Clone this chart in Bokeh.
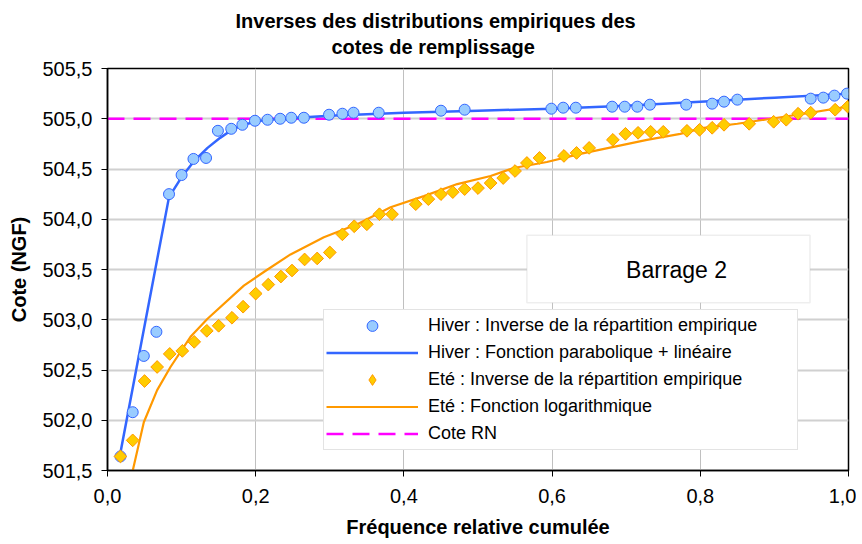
from bokeh.plotting import figure
from bokeh.models import Range1d, FixedTicker, Legend, LegendItem, Title, Label, BoxAnnotation
from bokeh.embed import file_html
from bokeh.resources import INLINE

# ---- data ----
hiver_freq = [0.0175, 0.034, 0.049, 0.066, 0.083, 0.100, 0.116, 0.133, 0.149, 0.167, 0.182, 0.199,
              0.216, 0.233, 0.248, 0.265, 0.299, 0.317, 0.332, 0.366, 0.450, 0.482, 0.599, 0.615,
              0.632, 0.681, 0.698, 0.715, 0.732, 0.781, 0.816, 0.832, 0.850, 0.949, 0.966, 0.981, 0.998]
hiver_cote = [501.64, 502.08, 502.64, 502.88, 504.25, 504.44, 504.60, 504.61, 504.88, 504.90, 504.94, 504.98,
              504.99, 505.00, 505.01, 505.01, 505.04, 505.05, 505.06, 505.06, 505.08, 505.09, 505.10, 505.11,
              505.11, 505.12, 505.12, 505.12, 505.14, 505.14, 505.15, 505.17, 505.19, 505.20, 505.21, 505.23, 505.25]

hiver_fit_freq = [0.0175, 0.083, 0.100, 0.117, 0.135, 0.152, 0.170, 0.189, 0.206, 0.233, 0.3, 0.4,
                  0.5, 0.6, 0.7, 0.8, 0.9, 1.0]
hiver_fit_cote = [501.68, 504.22, 504.42, 504.58, 504.71, 504.81, 504.90, 504.95, 504.98, 505.00, 505.03, 505.06,
                  505.08, 505.10, 505.13, 505.17, 505.21, 505.25]

ete_freq = [0.0175, 0.034, 0.050, 0.067, 0.084, 0.101, 0.117, 0.134, 0.150, 0.168, 0.183, 0.200,
            0.217, 0.234, 0.249, 0.266, 0.283, 0.300, 0.317, 0.333, 0.350, 0.367, 0.384, 0.416,
            0.433, 0.450, 0.466, 0.482, 0.500, 0.517, 0.534, 0.550, 0.566, 0.583, 0.616, 0.633,
            0.650, 0.682, 0.699, 0.716, 0.733, 0.750, 0.782, 0.799, 0.816, 0.832, 0.866, 0.899,
            0.916, 0.932, 0.949, 0.982, 0.999]
ete_cote = [501.64, 501.80, 502.39, 502.53, 502.66, 502.69, 502.78, 502.89, 502.94, 503.02, 503.13, 503.26,
            503.35, 503.43, 503.49, 503.60, 503.61, 503.67, 503.85, 503.93, 503.95, 504.05, 504.05, 504.15,
            504.20, 504.25, 504.27, 504.30, 504.31, 504.36, 504.41, 504.48, 504.56, 504.61, 504.63, 504.66,
            504.71, 504.79, 504.85, 504.86, 504.87, 504.87, 504.88, 504.89, 504.91, 504.94, 504.95, 504.97,
            504.99, 505.05, 505.06, 505.09, 505.12]

ete_fit_freq = [0.031, 0.049, 0.067, 0.085, 0.112, 0.135, 0.184, 0.216, 0.247, 0.292, 0.337, 0.382,
                0.427, 0.472, 0.517, 0.548, 0.593, 0.638, 0.683, 0.728, 0.773, 0.805, 0.850, 0.895,
                0.940, 0.999]
ete_fit_cote = [501.40, 501.98, 502.30, 502.53, 502.83, 503.01, 503.34, 503.50, 503.65, 503.82, 503.95, 504.12,
                504.23, 504.35, 504.43, 504.51, 504.57, 504.65, 504.72, 504.79, 504.85, 504.91, 504.95, 505.00,
                505.05, 505.12]

rn_freq = [0.0, 1.0]
rn_cote = [505.0, 505.0]

x_ticks = [0.0, 0.2, 0.4, 0.6, 0.8, 1.0]
x_tick_labels = ["0,0", "0,2", "0,4", "0,6", "0,8", "1,0"]
y_ticks = [501.5, 502.0, 502.5, 503.0, 503.5, 504.0, 504.5, 505.0, 505.5]
y_tick_labels = ["501,5", "502,0", "502,5", "503,0", "503,5", "504,0", "504,5", "505,0", "505,5"]

title_lines = ["Inverses des distributions empiriques des", "cotes de remplissage"]
x_label = "Fréquence relative cumulée"
y_label = "Cote (NGF)"
legend_labels = ["Hiver : Inverse de la répartition empirique",
                 "Hiver : Fonction parabolique + linéaire",
                 "Eté : Inverse de la répartition empirique",
                 "Eté : Fonction logarithmique",
                 "Cote RN"]
box_text = "Barrage 2"

FONT = "Liberation Sans"

p = figure(width=856, height=544, output_backend="svg", toolbar_location=None,
           x_range=Range1d(0, 1), y_range=Range1d(501.5, 505.5))
p.min_border_left = 107
p.min_border_right = 8
p.min_border_top = 68
p.min_border_bottom = 74
p.background_fill_color = "white"
p.border_fill_color = "white"
p.outline_line_color = "black"
p.outline_line_width = 1.5

# axes
p.xaxis.ticker = FixedTicker(ticks=x_ticks)
p.xaxis.major_label_overrides = {t: l for t, l in zip(x_ticks, x_tick_labels)}
p.yaxis.ticker = FixedTicker(ticks=y_ticks)
p.yaxis.major_label_overrides = {t: l for t, l in zip(y_ticks, y_tick_labels)}
for ax in (p.xaxis, p.yaxis):
    ax.axis_line_color = "black"
    ax.axis_line_width = 1.5
    ax.major_tick_line_color = "black"
    ax.major_tick_in = 0
    ax.major_tick_out = 6
    ax.minor_tick_line_color = None
    ax.major_label_text_font = FONT
    ax.major_label_text_font_size = "20px"
    ax.major_label_text_color = "black"
    ax.axis_label_text_font = FONT
    ax.axis_label_text_font_style = "bold"
    ax.axis_label_text_font_size = "20px"
    ax.axis_label_text_color = "black"
p.xaxis.axis_label = x_label
p.yaxis.axis_label = y_label
p.xaxis.major_label_standoff = 12
p.yaxis.major_label_standoff = 9
p.xaxis.axis_label_standoff = 10
p.yaxis.axis_label_standoff = 9

p.xgrid.ticker = FixedTicker(ticks=x_ticks)
p.ygrid.ticker = FixedTicker(ticks=y_ticks)
p.xgrid.grid_line_color = "#c0c0c0"
p.xgrid.grid_line_width = 1
p.ygrid.grid_line_color = "#d0d0d0"
p.ygrid.grid_line_width = 2

# titles (line 2 first: closest to plot)
t2 = Title(text=title_lines[1], align="left", offset=224, text_font=FONT,
           text_font_style="bold", text_font_size="20px", text_color="black", standoff=22)
t1 = Title(text=title_lines[0], align="left", offset=128, text_font=FONT,
           text_font_style="bold", text_font_size="20px", text_color="black", standoff=-18)
p.add_layout(t2, "above")
p.add_layout(t1, "above")

# series
r_rn = p.line(rn_freq, rn_cote, line_color="#ff00ff", line_width=2.5, line_dash="17 9")
r_hfit = p.line(hiver_fit_freq, hiver_fit_cote, line_color="#3366ff", line_width=2.5)
r_efit = p.line(ete_fit_freq, ete_fit_cote, line_color="#ff9900", line_width=2.2)
r_hpts = p.scatter(hiver_freq, hiver_cote, marker="circle", size=11,
                   fill_color="#99ccff", line_color="#3366ff", line_width=1)
# diamond key for the legend (hidden under the rotated squares; legend glyphs are never rotated)
r_epts_key = p.scatter(ete_freq, ete_cote, marker="diamond", size=11,
                       fill_color="#ffcc00", line_color="#ff9900", line_width=1)
r_epts = p.scatter(ete_freq, ete_cote, marker="square", angle=0.785398, size=9,
                   fill_color="#ffcc00", line_color="#ff9900", line_width=1)

# Barrage 2 box
box = BoxAnnotation(left=0.566, right=0.948, bottom=503.17, top=503.84,
                    fill_color="white", fill_alpha=1.0, line_color="#c8c8c8", line_width=1.5)
p.add_layout(box)
p.add_layout(Label(x=0.768, y=503.5, text=box_text, text_align="center", text_baseline="middle",
                   text_font=FONT, text_font_size="23px", text_color="black"))

legend = Legend(items=[
    LegendItem(label=legend_labels[0], renderers=[r_hpts]),
    LegendItem(label=legend_labels[1], renderers=[r_hfit]),
    LegendItem(label=legend_labels[2], renderers=[r_epts_key]),
    LegendItem(label=legend_labels[3], renderers=[r_efit]),
    LegendItem(label=legend_labels[4], renderers=[r_rn]),
], location=(216, 20))
legend.label_text_font = FONT
legend.label_text_font_size = "18px"
legend.label_text_color = "black"
legend.padding = 2
legend.spacing = 0
legend.margin = 0
legend.label_height = 27
legend.label_width = 367
legend.glyph_height = 27
legend.glyph_width = 92
legend.label_standoff = 10
legend.border_line_color = "#c8c8c8"
legend.border_line_width = 1.5
legend.background_fill_color = "white"
legend.background_fill_alpha = 1.0
p.add_layout(legend)

open("out.html", "w").write(file_html(p, INLINE))
